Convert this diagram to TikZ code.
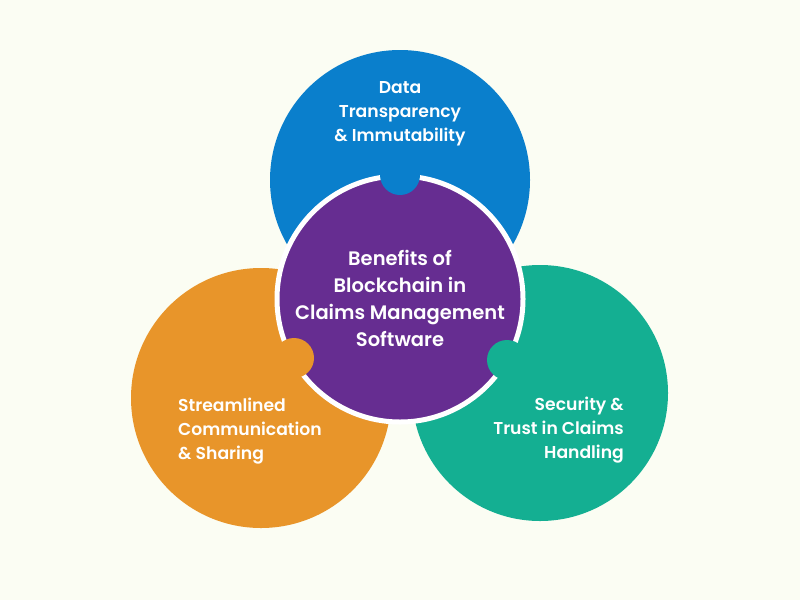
\documentclass[tikz,border=0pt]{standalone}
\usepackage{fontspec}
\setmainfont{Poppins SemiBold}
\definecolor{bg}{HTML}{FBFDF3}
\definecolor{cblue}{HTML}{0A7FCC}
\definecolor{corange}{HTML}{E8952A}
\definecolor{cgreen}{HTML}{14AF92}
\definecolor{cpurple}{HTML}{662D91}
\begin{document}
\begin{tikzpicture}[x=1pt,y=-1pt,
  lbl/.style={text=white,font=\fontsize{17.2}{24}\selectfont},
  big/.style={circle,inner sep=0pt,minimum size=#1}]
\fill[bg] (0,0) rectangle (800,600);
\useasboundingbox (0,0) rectangle (800,600);
\node[big=260pt,fill=cblue] (blue) at (400,180) {};
\node[big=260pt,fill=corange] (orange) at (261,398) {};
\node[big=256pt,fill=cgreen] (green) at (540,393) {};
\node[big=246pt,fill=cpurple,draw=white,line width=5pt] (purple) at (400,299) {};
\node[big=40pt,fill=cblue] (kb) at (400,175) {};
\node[big=40pt,fill=corange] (ko) at (294,358) {};
\node[big=40pt,fill=cgreen] (kg) at (507,360) {};
\node[lbl,align=center] (tb) at (400,114) {Data\\Transparency\\\& Immutability};
\node[lbl,align=left,anchor=west,inner sep=0pt] (to) at (178,431) {Streamlined\\Communication\\\& Sharing};
\node[lbl,align=right,anchor=east,inner sep=0pt] (tg) at (624,430) {Security \&\\Trust in Claims\\Handling};
\node[text=white,align=center,font=\fontsize{19.5}{27}\selectfont] (tp) at (400,298) {Benefits of\\Blockchain in\\Claims Management\\Software};
\end{tikzpicture}
\end{document}
